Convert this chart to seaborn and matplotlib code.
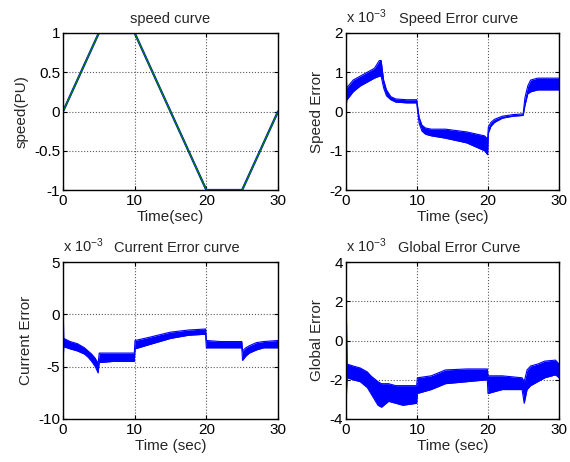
import matplotlib
matplotlib.use("Agg")
import matplotlib.pyplot as plt
import seaborn as sns
import pandas as pd

# ---------------- data ----------------
time_speed = [0, 5, 10, 20, 25, 30]
speed_ref = [0, 1, 1, -1, -1, 0]
speed_meas = [0, 1, 1, -1, -1, 0]

# Speed error envelope (x 1e-3)
se_t = [0, 0.1, 1, 2, 3, 4, 4.7, 4.95, 5.3, 5.7, 6.3, 7, 8.5, 9.95, 10.3, 10.7, 11.2, 12, 14, 17, 19.5, 19.95,
        20.05, 20.4, 20.9, 22, 23.5, 24.95, 25.2, 25.6, 26, 27, 28.5, 30]
se_hi = [1.34, 0.6, 0.8, 0.9, 1.0, 1.1, 1.3, 1.3, 0.8, 0.55, 0.38, 0.32, 0.3, 0.3, -0.15, -0.35, -0.42, -0.45, -0.45,
         -0.52, -0.62, -0.7, -0.4, -0.28, -0.2, -0.12, -0.08, -0.06, 0.35, 0.65, 0.8, 0.85, 0.85, 0.85]
se_lo = [0.0, 0.29, 0.5, 0.65, 0.75, 0.85, 0.9, 0.9, 0.6, 0.4, 0.3, 0.24, 0.22, 0.22, -0.3, -0.5, -0.58, -0.62, -0.68,
         -0.8, -1.0, -1.1, -0.55, -0.38, -0.28, -0.17, -0.12, -0.1, 0.15, 0.45, 0.5, 0.55, 0.55, 0.55]

# Current error envelope (x 1e-3)
ce_t = [0, 0.1, 1, 2, 3, 3.5, 4, 4.5, 4.9, 5.05, 5.2, 7, 9.95, 10.05, 12, 15, 17.5, 19.9, 20.0, 22, 24.95, 25.05,
        25.5, 26, 27, 28, 30]
ce_hi = [2.4, -2.3, -2.6, -2.8, -3.2, -3.5, -3.8, -4.2, -4.7, -3.7, -3.7, -3.7, -3.7, -2.5, -2.2, -1.7, -1.5, -1.4,
         -2.5, -2.6, -2.6, -3.5, -3.2, -3.0, -2.7, -2.6, -2.5]
ce_lo = [-5.0, -3.1, -3.3, -3.5, -3.8, -4.1, -4.5, -5.0, -5.6, -4.6, -4.6, -4.5, -4.5, -3.3, -2.9, -2.3, -2.0, -1.9,
         -3.2, -3.2, -3.2, -4.4, -4.0, -3.7, -3.4, -3.2, -3.2]

# Global error envelope (x 1e-3)
ge_t = [0, 0.15, 1, 2, 3, 3.5, 4.5, 5, 6, 7, 8, 9.95, 10.05, 12, 14, 17, 19.9, 20.0, 22, 24.8, 25.1, 25.5, 26, 27,
        28, 29.5, 30]
ge_hi = [3.05, -1.2, -1.3, -1.4, -1.6, -1.8, -2.1, -2.2, -2.2, -2.3, -2.3, -2.3, -1.9, -1.8, -1.5, -1.45, -1.45,
         -1.8, -1.8, -1.9, -2.1, -1.5, -1.3, -1.2, -1.05, -1.0, -1.2]
ge_lo = [-3.4, -1.9, -2.0, -2.1, -2.4, -2.7, -3.3, -3.4, -3.1, -3.2, -3.3, -3.2, -2.7, -2.5, -2.2, -2.1, -2.0,
         -2.7, -2.5, -2.5, -3.2, -2.5, -2.3, -2.1, -1.9, -1.75, -1.9]

x_ticks = [0, 10, 20, 30]
x_ticklabels = ["0", "10", "20", "30"]
speed_yticks = [-1, -0.5, 0, 0.5, 1]
speed_yticklabels = ["-1", "-0.5", "0", "0.5", "1"]
se_yticks = [-2, -1, 0, 1, 2]
se_yticklabels = ["-2", "-1", "0", "1", "2"]
ce_yticks = [-10, -5, 0, 5]
ce_yticklabels = ["-10", "-5", "0", "5"]
ge_yticks = [-4, -2, 0, 2, 4]
ge_yticklabels = ["-4", "-2", "0", "2", "4"]

titles = ["speed curve", "Speed Error curve", "Current Error curve", "Global Error Curve"]
ylabels = ["speed(PU)", "Speed Error", "Current Error", "Global Error"]
xlabels = ["Time(sec)", "Time (sec)", "Time (sec)", "Time (sec)"]

# ---------------- style ----------------
sns.set_style("white")
plt.rcParams["font.family"] = ["Liberation Sans", "DejaVu Sans"]
plt.rcParams["axes.unicode_minus"] = False
plt.rcParams["mathtext.fontset"] = "custom"
plt.rcParams["mathtext.rm"] = "Liberation Sans"
plt.rcParams["mathtext.it"] = "Liberation Sans"
plt.rcParams["mathtext.bf"] = "Liberation Sans"

FS = 11
FT = 10.5
fig = plt.figure(figsize=(5.7, 4.62), dpi=100)
fig.patch.set_facecolor("white")

W, H = 570, 462
def rect(x0, y0, x1, y1):
    return [x0 / W, 1 - y1 / H, (x1 - x0) / W, (y1 - y0) / H]

ax1 = fig.add_axes(rect(63, 33, 278, 190))
ax2 = fig.add_axes(rect(346, 33, 559, 190))
ax3 = fig.add_axes(rect(63, 262, 278, 419))
ax4 = fig.add_axes(rect(346, 262, 559, 419))
axes = [ax1, ax2, ax3, ax4]

# speed curve
df_speed = pd.DataFrame({"t": time_speed, "ref": speed_ref, "meas": speed_meas})
sns.lineplot(data=df_speed, x="t", y="ref", ax=ax1, color="#0000ff", lw=1.6, estimator=None, sort=False)
sns.lineplot(data=df_speed, x="t", y="meas", ax=ax1, color="#008000", lw=1.0, estimator=None, sort=False)

def band(ax, t, lo, hi):
    df = pd.DataFrame({"t": t, "lo": lo, "hi": hi})
    ax.fill_between(df["t"], df["lo"], df["hi"], color="#0000ff", lw=0)
    sns.lineplot(data=df, x="t", y="hi", ax=ax, color="#0000ff", lw=0.8, estimator=None, sort=False)
    sns.lineplot(data=df, x="t", y="lo", ax=ax, color="#0000ff", lw=0.8, estimator=None, sort=False)

band(ax2, se_t, se_lo, se_hi)
band(ax3, ce_t, ce_lo, ce_hi)
band(ax4, ge_t, ge_lo, ge_hi)

ylims = [(-1, 1), (-2, 2), (-10, 5), (-4, 4)]
yticks = [speed_yticks, se_yticks, ce_yticks, ge_yticks]
yticklabels = [speed_yticklabels, se_yticklabels, ce_yticklabels, ge_yticklabels]

for i, ax in enumerate(axes):
    ax.set_xlim(0, 30)
    ax.set_ylim(*ylims[i])
    ax.set_xticks(x_ticks)
    ax.set_xticklabels(x_ticklabels, fontsize=FS)
    ax.set_yticks(yticks[i])
    ax.set_yticklabels(yticklabels[i], fontsize=FS)
    ax.tick_params(direction="in", length=3, width=0.8, top=True, right=True, bottom=True, left=True,
                   colors="black")
    ax.tick_params(axis="x", pad=3)
    ax.tick_params(axis="y", pad=2)
    ax.grid(True, linestyle=":", color="0.35", lw=0.8)
    for s in ax.spines.values():
        s.set_visible(True)
        s.set_color("black")
        s.set_linewidth(1.0)
    ax.set_xlabel(xlabels[i], fontsize=FS, labelpad=1)
    ax.set_ylabel(ylabels[i], fontsize=FS, labelpad=4)
    if i == 0:
        ax.set_title(titles[i], fontsize=FT, pad=7)
    else:
        ax.set_title(titles[i], fontsize=FT, pad=7, x=0.53)
        ax.text(0.0, 1.045, r"x 10$^{-3}$", transform=ax.transAxes, fontsize=FT, ha="left", va="bottom")

fig.savefig("out.png", dpi=100, facecolor="white")
